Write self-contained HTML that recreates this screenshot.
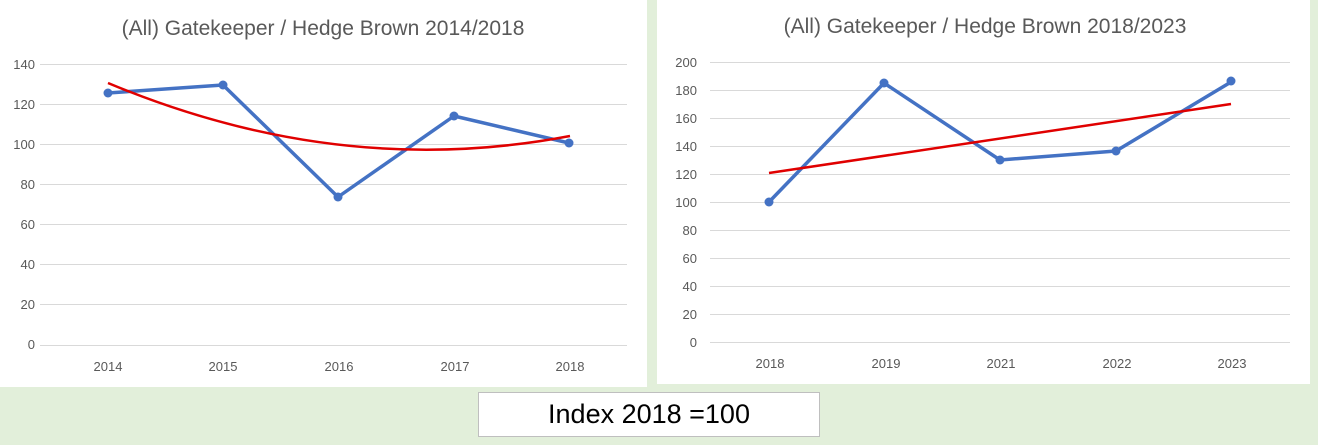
<!DOCTYPE html>
<html><head><style>
body{margin:0;width:1318px;height:445px;background:#e2efda;overflow:hidden;position:relative;font-family:"Liberation Sans",sans-serif}
.p{position:absolute;background:#fff}
.box{position:absolute;left:478px;top:392px;width:340px;height:43px;background:#fff;border:1px solid #bfbfbf;font-size:27px;text-align:center;line-height:43px;color:#000}
</style></head><body>
<div class="p" style="left:0;top:0;width:647px;height:387px"></div>
<div class="p" style="left:657px;top:0;width:653px;height:384px"></div>
<svg width="1318" height="445" style="position:absolute;left:0;top:0" font-family="Liberation Sans, sans-serif">
<g fill="#595959">
<text x="323" y="35" font-size="21" text-anchor="middle">(All) Gatekeeper / Hedge Brown 2014/2018</text>
<text x="985" y="33" font-size="21" text-anchor="middle">(All) Gatekeeper / Hedge Brown 2018/2023</text>
</g>
<g stroke="#d9d9d9" stroke-width="1">
<line x1="40" x2="627" y1="64.5" y2="64.5"/><line x1="40" x2="627" y1="104.5" y2="104.5"/><line x1="40" x2="627" y1="144.5" y2="144.5"/><line x1="40" x2="627" y1="184.5" y2="184.5"/><line x1="40" x2="627" y1="224.5" y2="224.5"/><line x1="40" x2="627" y1="264.5" y2="264.5"/><line x1="40" x2="627" y1="304.5" y2="304.5"/><line x1="40" x2="627" y1="345.5" y2="345.5"/>
<line x1="710" x2="1290" y1="62.5" y2="62.5"/><line x1="710" x2="1290" y1="90.5" y2="90.5"/><line x1="710" x2="1290" y1="118.5" y2="118.5"/><line x1="710" x2="1290" y1="146.5" y2="146.5"/><line x1="710" x2="1290" y1="174.5" y2="174.5"/><line x1="710" x2="1290" y1="202.5" y2="202.5"/><line x1="710" x2="1290" y1="230.5" y2="230.5"/><line x1="710" x2="1290" y1="258.5" y2="258.5"/><line x1="710" x2="1290" y1="286.5" y2="286.5"/><line x1="710" x2="1290" y1="314.5" y2="314.5"/><line x1="710" x2="1290" y1="342.5" y2="342.5"/>
</g>
<g fill="#595959" font-size="13" text-anchor="end">
<text x="35" y="69">140</text><text x="35" y="109">120</text><text x="35" y="149">100</text><text x="35" y="189">80</text><text x="35" y="229">60</text><text x="35" y="269">40</text><text x="35" y="309">20</text><text x="35" y="349">0</text>
<text x="697" y="67">200</text><text x="697" y="95">180</text><text x="697" y="123">160</text><text x="697" y="151">140</text><text x="697" y="179">120</text><text x="697" y="207">100</text><text x="697" y="235">80</text><text x="697" y="263">60</text><text x="697" y="291">40</text><text x="697" y="319">20</text><text x="697" y="347">0</text>
</g>
<g fill="#595959" font-size="13" text-anchor="middle">
<text x="108" y="371">2014</text><text x="223" y="371">2015</text><text x="339" y="371">2016</text><text x="455" y="371">2017</text><text x="570" y="371">2018</text>
<text x="770" y="368">2018</text><text x="886" y="368">2019</text><text x="1001" y="368">2021</text><text x="1117" y="368">2022</text><text x="1232" y="368">2023</text>
</g>
<g fill="none" stroke="#4472c4" stroke-width="3.5" stroke-linejoin="round">
<polyline points="108,93 223,85 338,197 454,116 569,143"/>
<polyline points="769,202 884,83 1000,160 1116,151 1231,82"/>
</g>
<g fill="#4472c4">
<circle cx="108" cy="93" r="4.5"/><circle cx="223" cy="85" r="4.5"/><circle cx="338" cy="197" r="4.5"/><circle cx="454" cy="116" r="4.5"/><circle cx="569" cy="143" r="4.5"/>
<circle cx="769" cy="202" r="4.5"/><circle cx="884" cy="83" r="4.5"/><circle cx="1000" cy="160" r="4.5"/><circle cx="1116" cy="151" r="4.5"/><circle cx="1231" cy="81" r="4.5"/>
</g>
<g fill="none" stroke="#e00000" stroke-width="2.5">
<path d="M108,83 Q340,180 570,136" />
<line x1="769" y1="173" x2="1231" y2="104"/>
</g>
</svg>
<div class="box">Index 2018 =100</div>
</body></html>
